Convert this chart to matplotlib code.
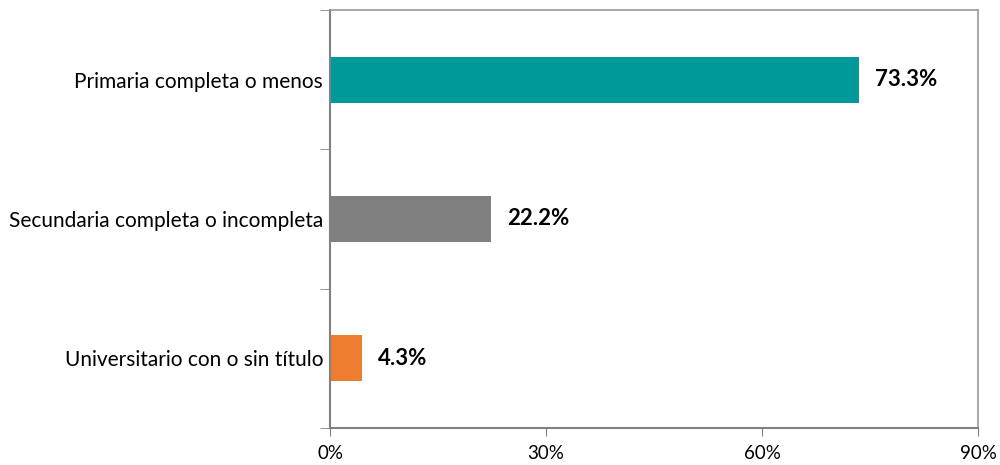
import matplotlib.pyplot as plt
import numpy as np

categorias = ['Primaria completa o menos', 'Secundaria completa o incompleta', 'Universitario con o sin título']
valores = [73.3, 22.2, 4.3]
colores = ['#009999', '#808080', '#ED7D31']
xticks = [0, 30, 60, 90]

plt.rcParams['font.family'] = ['Lato', 'DejaVu Sans']

fig = plt.figure(figsize=(10, 4.65), dpi=100)
ax = fig.add_axes([0.33, 0.0796, 0.648, 0.899])

y = np.arange(len(categorias))
ax.barh(y, valores, height=0.33, color=colores, left=0.2)
for yi, v in zip(y, valores):
    ax.text(v + 2.4, yi, f'{v:.1f}%', va='center', ha='left', fontsize=16, fontweight='bold')

ax.set_xlim(0, 90)
ax.set_ylim(2.5, -0.5)
ax.set_xticks(xticks)
ax.set_xticklabels([f'{t}%' for t in xticks], fontsize=13.5)
ax.set_yticks(y)
ax.set_yticklabels(categorias, fontsize=15)
ax.tick_params(axis='y', length=0, pad=5)
ax.set_yticks([-0.5, 0.5, 1.5, 2.5], minor=True)
ax.tick_params(axis='y', which='minor', length=7, color='#808080')
ax.tick_params(axis='x', length=6, color='#808080', pad=6)

for s in ['left', 'bottom']:
    ax.spines[s].set_color('#808080')
    ax.spines[s].set_linewidth(1.5)
for s in ['top', 'right']:
    ax.spines[s].set_color('#999999')
    ax.spines[s].set_linewidth(1.2)

fig.savefig('out.png')
